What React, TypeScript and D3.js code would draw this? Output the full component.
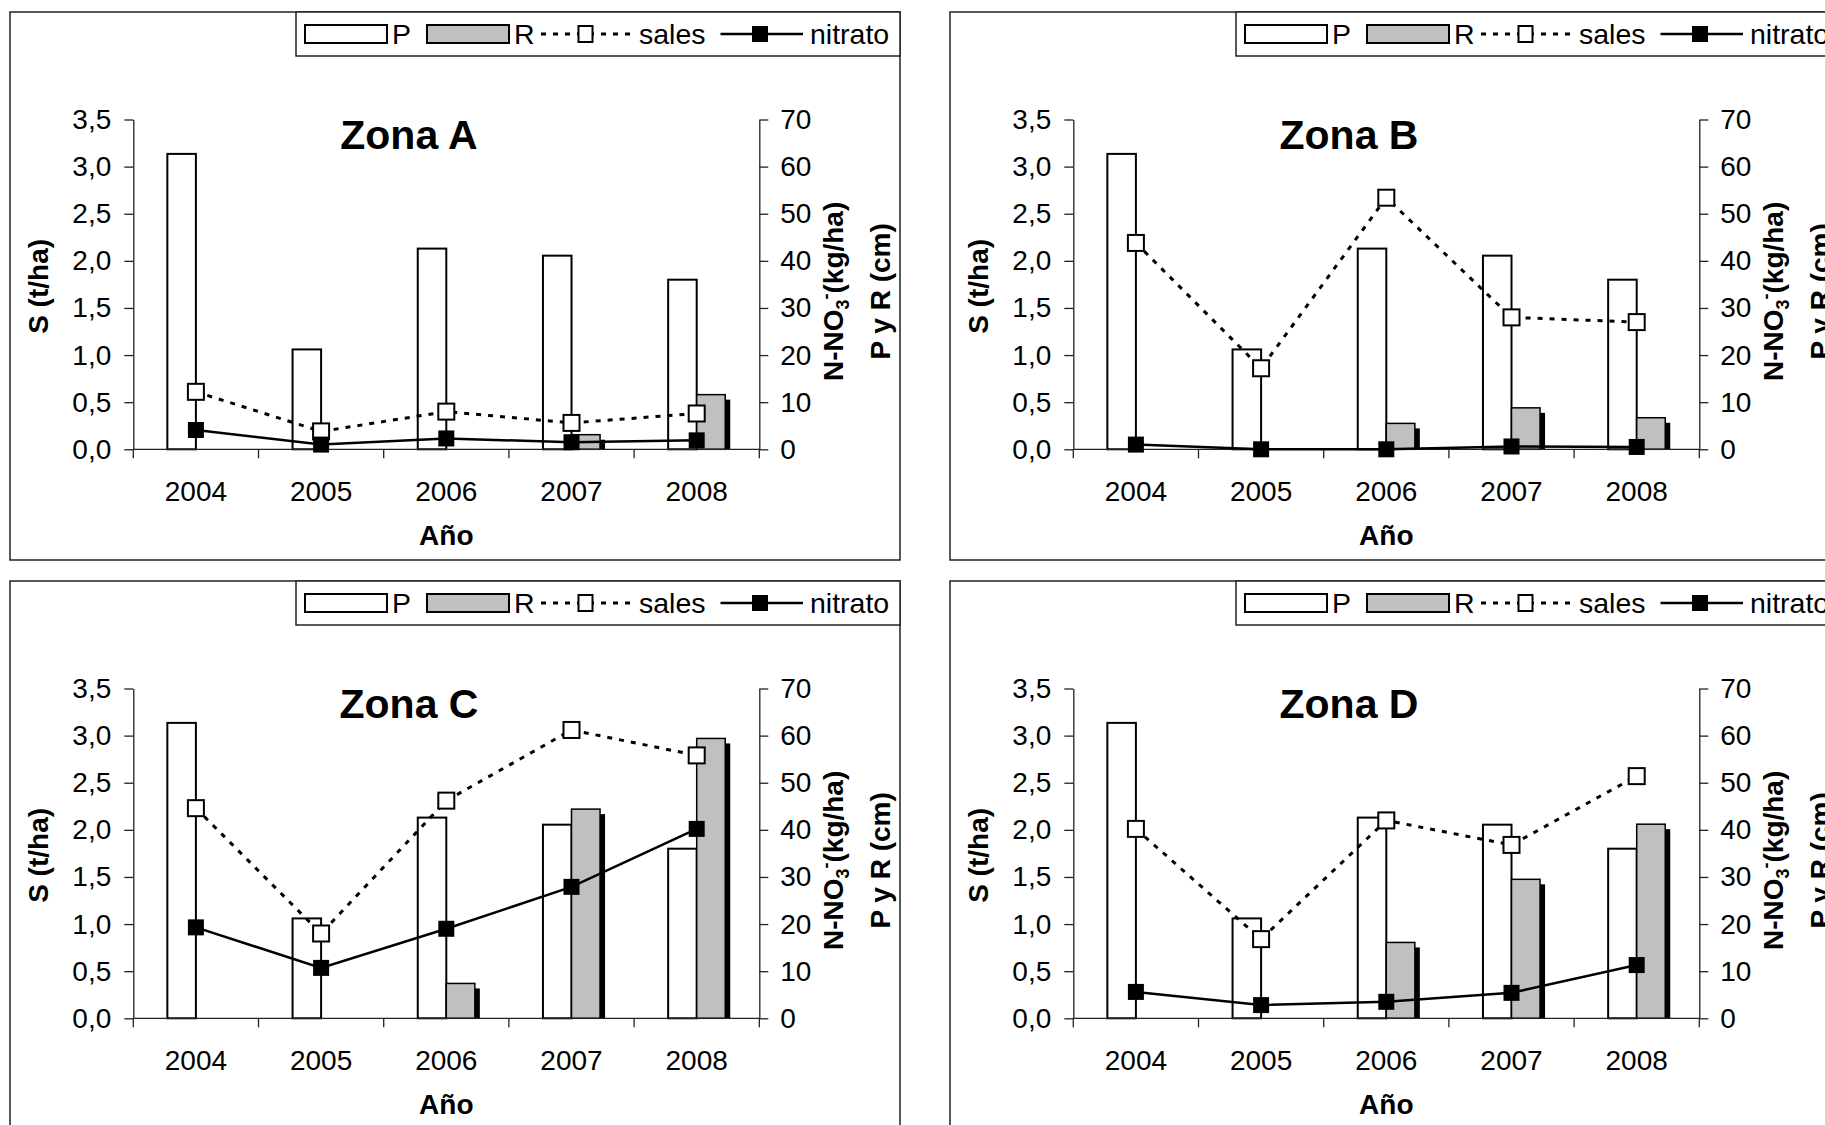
import * as d3 from "d3";
import React, { useEffect, useRef } from "react";

const years = ["2004", "2005", "2006", "2007", "2008"];
const leftTicks = [0, 0.5, 1, 1.5, 2, 2.5, 3, 3.5];
const rightTicks = [0, 10, 20, 30, 40, 50, 60, 70];

// P (cm) - same rainfall in every zone
const precip = [62.7, 21.2, 42.6, 41.1, 36.0];

const zoneNames = ["Zona A", "Zona B", "Zona C", "Zona D"];

// sales S (t/ha), left axis
const salesA = [0.61, 0.19, 0.4, 0.28, 0.38];
const salesB = [2.19, 0.86, 2.67, 1.4, 1.35];
const salesC = [2.23, 0.9, 2.31, 3.06, 2.79];
const salesD = [2.01, 0.84, 2.1, 1.84, 2.57];

// nitrato N-NO3 (kg/ha), right axis
const nitratoA = [4.1, 1.0, 2.3, 1.5, 1.9];
const nitratoB = [1.0, 0.0, 0.0, 0.6, 0.5];
const nitratoC = [19.3, 10.7, 19.0, 27.9, 40.2];
const nitratoD = [5.6, 2.8, 3.5, 5.4, 11.3];

// R (cm), right axis
const riegoA = [0, 0, 0, 3.1, 11.6];
const riegoB = [0, 0, 5.5, 8.8, 6.7];
const riegoC = [0, 0, 7.4, 44.4, 59.4];
const riegoD = [0, 0, 16.1, 29.5, 41.2];

const zones = [
    { name: zoneNames[0], sales: salesA, nitrato: nitratoA, riego: riegoA },
    { name: zoneNames[1], sales: salesB, nitrato: nitratoB, riego: riegoB },
    { name: zoneNames[2], sales: salesC, nitrato: nitratoC, riego: riegoC },
    { name: zoneNames[3], sales: salesD, nitrato: nitratoD, riego: riegoD },
];

const FONT = "'Liberation Sans', Arial, Helvetica, sans-serif";
const W = 890;
const H = 548;
const X0 = 123.3;
const X1 = 749.3;
const YTOP = 107.5;
const YBOT = 437.3;

const panelPos = [
    { x: 10, y: 12 },
    { x: 950, y: 12 },
    { x: 10, y: 581 },
    { x: 950, y: 581 },
];

const es = d3.formatLocale({ decimal: ",", thousands: ".", grouping: [3], currency: ["", "€"] });
const fmt1 = es.format(".1f");

function drawPanel(svg, zone, pos) {
    const g = svg.append("g").attr("transform", `translate(${pos.x},${pos.y})`);

    g.append("rect")
        .attr("width", W)
        .attr("height", H)
        .attr("fill", "#fff")
        .attr("stroke", "#222")
        .attr("stroke-width", 1.5);

    const p = g.append("g");

    const x = d3.scaleBand().domain(years).range([X0, X1]);
    const yL = d3.scaleLinear().domain([0, 3.5]).range([YBOT, YTOP]);
    const yR = d3.scaleLinear().domain([0, 70]).range([YBOT, YTOP]);
    const bw = x.bandwidth() * 0.228;
    const cx = (d) => x(d) + x.bandwidth() / 2;

    // P bars
    p.selectAll(null)
        .data(years)
        .enter()
        .append("rect")
        .attr("x", (d) => cx(d) - bw)
        .attr("y", (d, i) => yR(precip[i]))
        .attr("width", bw)
        .attr("height", (d, i) => YBOT - yR(precip[i]))
        .attr("fill", "#fff")
        .attr("stroke", "#000")
        .attr("stroke-width", 2);

    // R bars with shadow
    const rData = years.map((d, i) => [d, zone.riego[i]]).filter((d) => d[1] > 0);
    p.selectAll(null)
        .data(rData)
        .enter()
        .append("rect")
        .attr("x", (d) => cx(d[0]) + bw)
        .attr("y", (d) => Math.min(yR(d[1]) + 5, YBOT))
        .attr("width", 5)
        .attr("height", (d) => Math.max(0, YBOT - yR(d[1]) - 5))
        .attr("fill", "#000");
    p.selectAll(null)
        .data(rData)
        .enter()
        .append("rect")
        .attr("x", (d) => cx(d[0]))
        .attr("y", (d) => yR(d[1]))
        .attr("width", bw)
        .attr("height", (d) => YBOT - yR(d[1]))
        .attr("fill", "#c0c0c0")
        .attr("stroke", "#000")
        .attr("stroke-width", 1.5);

    // axes
    const axL = p.append("g")
        .attr("transform", `translate(${X0},0)`)
        .call(d3.axisLeft(yL).tickValues(leftTicks).tickSize(9).tickSizeOuter(0).tickPadding(13).tickFormat(fmt1));
    const axR = p.append("g")
        .attr("transform", `translate(${X1},0)`)
        .call(d3.axisRight(yR).tickValues(rightTicks).tickSize(9).tickSizeOuter(0).tickPadding(12));
    [axL, axR].forEach((ax) => {
        ax.attr("font-size", 28).attr("font-family", FONT);
        ax.selectAll("path, line").attr("stroke", "#222").attr("stroke-width", 1.3);
        ax.selectAll("text").attr("fill", "#000");
    });

    p.append("line")
        .attr("x1", X0)
        .attr("x2", X1)
        .attr("y1", YBOT)
        .attr("y2", YBOT)
        .attr("stroke", "#222")
        .attr("stroke-width", 1.3);
    p.selectAll(null)
        .data([...years.map((d) => x(d)), X1])
        .enter()
        .append("line")
        .attr("x1", (d) => d)
        .attr("x2", (d) => d)
        .attr("y1", YBOT)
        .attr("y2", YBOT + 9)
        .attr("stroke", "#222")
        .attr("stroke-width", 1.3);
    p.selectAll(null)
        .data(years)
        .enter()
        .append("text")
        .attr("x", (d) => cx(d))
        .attr("y", YBOT + 52)
        .attr("text-anchor", "middle")
        .attr("font-family", FONT)
        .attr("font-size", 28)
        .text((d) => d);

    // lines
    const salesLine = d3.line().x((d, i) => cx(years[i])).y((d) => yL(d));
    const nitLine = d3.line().x((d, i) => cx(years[i])).y((d) => yR(d));

    p.append("path")
        .attr("d", salesLine(zone.sales))
        .attr("fill", "none")
        .attr("stroke", "#000")
        .attr("stroke-width", 3)
        .attr("stroke-dasharray", "5,7");
    p.append("path")
        .attr("d", nitLine(zone.nitrato))
        .attr("fill", "none")
        .attr("stroke", "#000")
        .attr("stroke-width", 2.5);

    p.selectAll(null)
        .data(zone.sales)
        .enter()
        .append("rect")
        .attr("x", (d, i) => cx(years[i]) - 8)
        .attr("y", (d) => yL(d) - 8)
        .attr("width", 16)
        .attr("height", 16)
        .attr("fill", "#fff")
        .attr("stroke", "#000")
        .attr("stroke-width", 2);
    p.selectAll(null)
        .data(zone.nitrato)
        .enter()
        .append("rect")
        .attr("x", (d, i) => cx(years[i]) - 8)
        .attr("y", (d) => yR(d) - 8)
        .attr("width", 16)
        .attr("height", 16)
        .attr("fill", "#000");

    // titles
    p.append("text")
        .attr("x", 399)
        .attr("y", 137)
        .attr("text-anchor", "middle")
        .attr("font-family", FONT)
        .attr("font-weight", "bold")
        .attr("font-size", 41)
        .text(zone.name);

    p.append("text")
        .attr("x", (X0 + X1) / 2)
        .attr("y", 532.7)
        .attr("text-anchor", "middle")
        .attr("font-family", FONT)
        .attr("font-weight", "bold")
        .attr("font-size", 28)
        .text("Año");

    const midY = (YTOP + YBOT) / 2 + 2;
    p.append("text")
        .attr("transform", `translate(37.5,${midY}) rotate(-90)`)
        .attr("text-anchor", "middle")
        .attr("font-family", FONT)
        .attr("font-weight", "bold")
        .attr("font-size", 28)
        .text("S (t/ha)");

    const t2 = p.append("text")
        .attr("transform", `translate(833,${midY + 5}) rotate(-90)`)
        .attr("text-anchor", "middle")
        .attr("font-family", FONT)
        .attr("font-weight", "bold")
        .attr("font-size", 28);
    t2.append("tspan").text("N-NO");
    t2.append("tspan").attr("font-size", 18).attr("dy", 6).text("3");
    t2.append("tspan").attr("font-size", 18).attr("dy", -17).text("-");
    t2.append("tspan").attr("dy", 11).text("(kg/ha)");

    p.append("text")
        .attr("transform", `translate(880,${midY + 5}) rotate(-90)`)
        .attr("text-anchor", "middle")
        .attr("font-family", FONT)
        .attr("font-weight", "bold")
        .attr("font-size", 28)
        .text("P y R (cm)");

    // legend
    const lg = g.append("g");
    lg.append("rect")
        .attr("x", 286)
        .attr("y", 0)
        .attr("width", W - 286)
        .attr("height", 44)
        .attr("fill", "#fff")
        .attr("stroke", "#222")
        .attr("stroke-width", 1.5);
    lg.append("rect").attr("x", 295).attr("y", 13).attr("width", 82).attr("height", 18)
        .attr("fill", "#fff").attr("stroke", "#000").attr("stroke-width", 2);
    lg.append("rect").attr("x", 417).attr("y", 13).attr("width", 82).attr("height", 18)
        .attr("fill", "#c0c0c0").attr("stroke", "#000").attr("stroke-width", 2);
    lg.append("line").attr("x1", 531).attr("x2", 620).attr("y1", 22).attr("y2", 22)
        .attr("stroke", "#000").attr("stroke-width", 3).attr("stroke-dasharray", "5,7");
    lg.append("rect").attr("x", 575.5 - 7).attr("y", 14).attr("width", 14).attr("height", 16)
        .attr("fill", "#fff").attr("stroke", "#000").attr("stroke-width", 2);
    lg.append("line").attr("x1", 710.5).attr("x2", 793).attr("y1", 22).attr("y2", 22)
        .attr("stroke", "#000").attr("stroke-width", 2.5);
    lg.append("rect").attr("x", 750 - 8).attr("y", 14).attr("width", 16).attr("height", 16)
        .attr("fill", "#000");
    lg.selectAll(null)
        .data([["P", 382], ["R", 504], ["sales", 629], ["nitrato", 800]])
        .enter()
        .append("text")
        .attr("x", (d) => d[1])
        .attr("y", 32)
        .attr("font-family", FONT)
        .attr("font-size", 28.5)
        .text((d) => d[0]);
}

export default function App() {
    const ref = useRef(null);

    useEffect(() => {
        const svg = d3.select(ref.current);
        svg.selectAll("*").remove();
        zones.forEach((z, i) => drawPanel(svg, z, panelPos[i]));
    }, []);

    return (
        <svg
            ref={ref}
            width={1825}
            height={1125}
            style={{ position: "absolute", left: 0, top: 0, background: "#fff" }}
        />
    );
}
